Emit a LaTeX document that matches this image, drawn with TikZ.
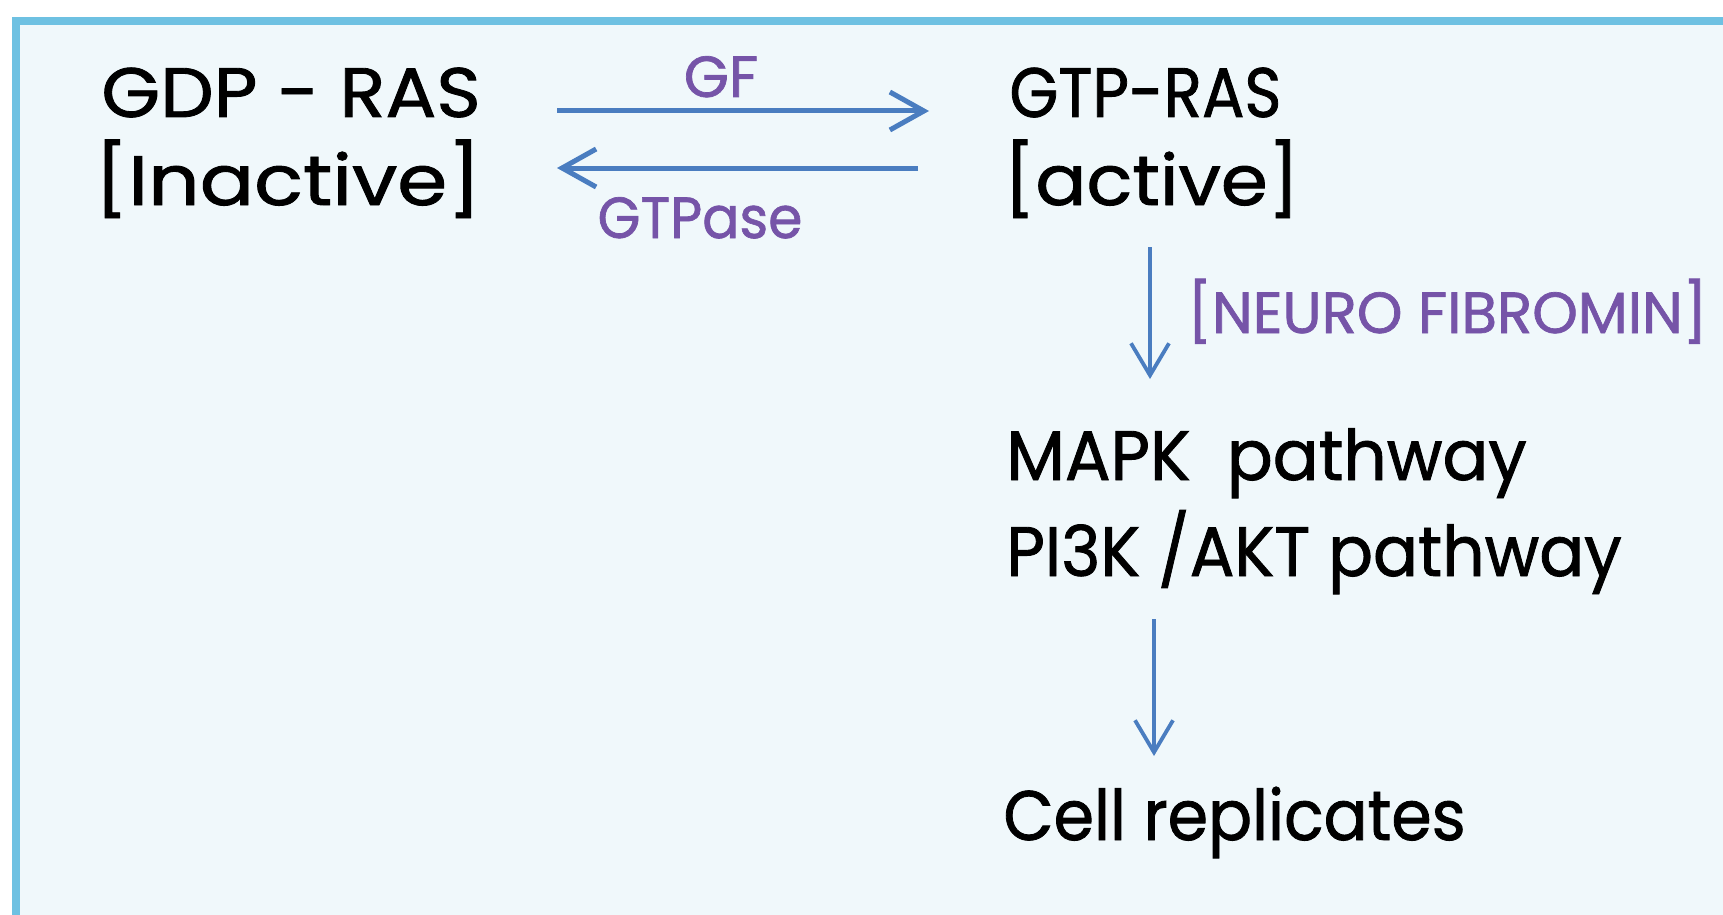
\documentclass[tikz,border=0pt]{standalone}
\usepackage{fontspec}
\setmainfont{Poppins}[FakeBold=1.2]
\usetikzlibrary{arrows.meta}
\definecolor{framec}{HTML}{6EC1E2}
\definecolor{bgc}{HTML}{F0F8FB}
\definecolor{arrc}{HTML}{4A7DC0}
\definecolor{labc}{HTML}{7654A8}
\tikzset{
  txt/.style={anchor=base west, inner sep=0pt, text=black, font=\fontsize{35}{40}\selectfont},
  lab/.style={inner sep=0pt, text=labc, font=\fontsize{29}{33}\selectfont},
  arr/.style={draw=arrc, line width=2.5pt, -{Straight Barb[length=17pt,width=19pt,line width=2.5pt]}},
  varr/.style={draw=arrc, line width=1.9pt, -{Straight Barb[length=16pt,width=19pt,line width=1.9pt]}}
}
\begin{document}
\begin{tikzpicture}[x=0.5pt,y=-0.5pt]
\useasboundingbox (0,0) rectangle (1723,915);
\begin{scope}
\clip (0,0) rectangle (1723,915);
\fill[white] (0,0) rectangle (1723,915);
\draw[framec, line width=4pt, fill=bgc] (16,21) rectangle (1760,960);
\end{scope}

\node[txt] (gdp) at (101,117) {\scalebox{1.08}[1]{GDP - RAS}};
\node[txt] (inact) at (94,205) {\scalebox{1.15}[1]{[Inactive]}};
\node[txt] (gtp) at (1009,117) {\scalebox{0.9}[1]{GTP-RAS}};
\node[txt] (act) at (1003,205) {\scalebox{1.08}[1]{[active]}};
\node[txt] (mapk) at (1006,480) {\scalebox{0.97}[1]{MAPK\ \ pathway}};
\node[txt] (pi3k) at (1006,576) {\scalebox{0.95}[1]{PI3K /AKT pathway}};
\node[txt] (cell) at (1003,840) {\scalebox{0.93}[1]{Cell replicates}};

\node[lab, anchor=base] (gf) at (721,97) {GF};
\node[lab, anchor=base] (gtpase) at (700,238) {\scalebox{0.95}[1]{GTPase}};
\node[lab, anchor=base west] (nf) at (1187,333) {[NEURO FIBROMIN]};

\coordinate (f1) at (557,111);
\coordinate (f2) at (929,111);
\coordinate (b1) at (918,168);
\coordinate (b2) at (557,168);
\coordinate (v1) at (1150,247);
\coordinate (v2) at (1150,379);
\coordinate (w1) at (1154,619);
\coordinate (w2) at (1154,756);

\draw[arr] (f1) -- (f2);
\draw[arr] (b1) -- (b2);
\draw[varr] (v1) -- (v2);
\draw[varr] (w1) -- (w2);
\end{tikzpicture}
\end{document}
